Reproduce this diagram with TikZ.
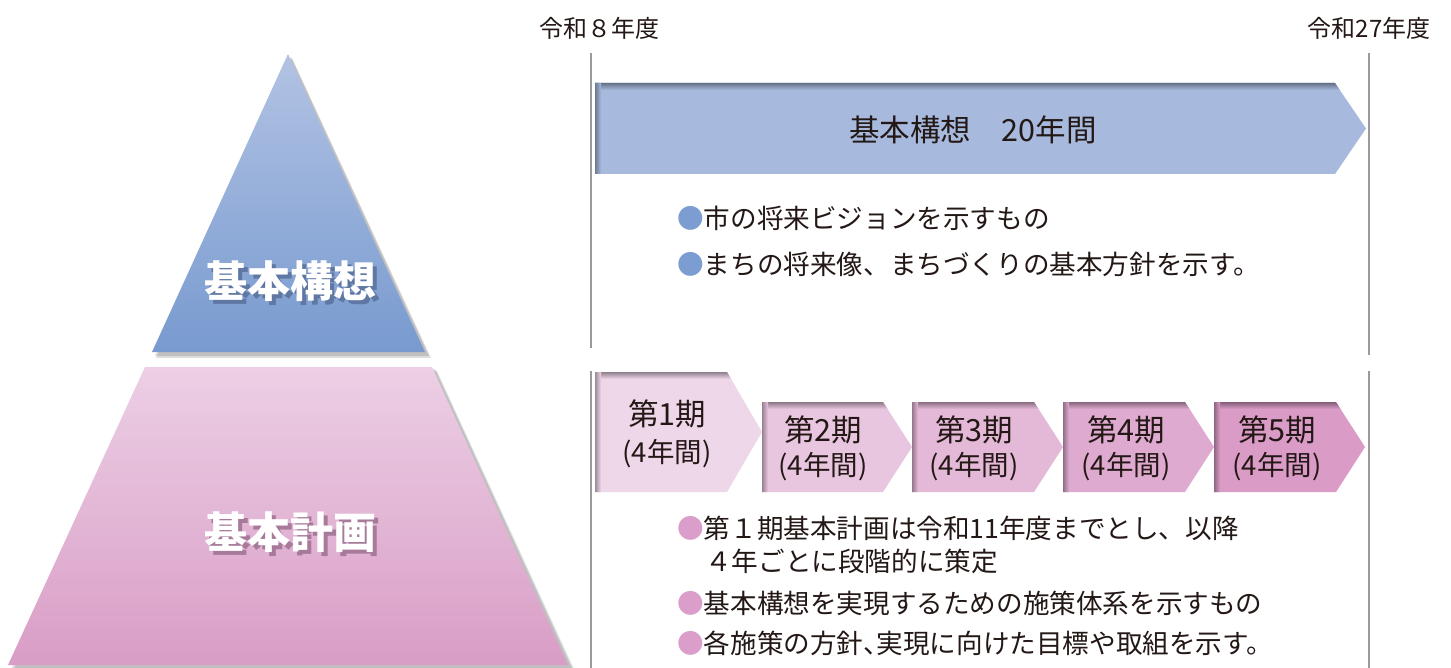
\documentclass[tikz,border=0pt]{standalone}
\usepackage{fontspec}
\setmainfont{Noto Sans CJK JP}
\newfontfamily\jpp[RawFeature=+palt]{Noto Sans CJK JP}
\definecolor{txt}{HTML}{231815}
\definecolor{bluefill}{HTML}{A7BADD}
\definecolor{triTop}{HTML}{B2C3E4}
\definecolor{triBot}{HTML}{789ACF}
\definecolor{trapTop}{HTML}{ECCFE5}
\definecolor{trapBot}{HTML}{D99DC6}
\definecolor{phA}{HTML}{EFD7EA}
\definecolor{phB}{HTML}{E9C6E0}
\definecolor{phC}{HTML}{E4B8D7}
\definecolor{phD}{HTML}{DFAACF}
\definecolor{phE}{HTML}{DA9CC7}
\definecolor{blt}{HTML}{7C9DD2}
\definecolor{pbl}{HTML}{DB9DC9}
\definecolor{vline}{HTML}{9A9A9A}
\definecolor{shBlue}{HTML}{5F77A3}
\definecolor{shPink}{HTML}{A77A99}
\newcommand\shadowed[2]{\makebox[0pt][l]{\hspace{4pt}\raisebox{-4pt}{\textcolor{#1}{#2}}}#2}
\newcommand\phasearr[6]{%
  \fill[#6] (#1,#4) -- (#2,#4) -- (#3,{(#4+#5)/2}) -- (#2,#5) -- (#1,#5) -- cycle;
  \begin{scope}
    \clip (#1,#4) -- (#2,#4) -- (#3,{(#4+#5)/2}) -- (#2,#5) -- (#1,#5) -- cycle;
    \shade[top color=#6!60!black, bottom color=#6] (#1,#4) rectangle (#3,#4+7);
    \shade[left color=#6!65!black, right color=#6] (#1,#4) rectangle (#1+6,#5);
  \end{scope}}
\begin{document}
\begin{tikzpicture}[x=1pt,y=-1pt,
  yearlbl/.style={font=\fontsize{24}{24}\selectfont, text=txt, inner sep=0pt},
  bigtxt/.style={font=\bfseries\fontsize{43}{43}\selectfont, text=white, inner sep=0pt},
  phtitle/.style={font=\fontsize{30.5}{30}\selectfont, text=txt, inner sep=0pt},
  phsub/.style={font=\fontsize{27.5}{27}\selectfont, text=txt, inner sep=0pt},
  bullettxt/.style={font=\fontsize{26.6}{26}\selectfont, text=txt, anchor=west, inner sep=0pt},
  vrule/.style={draw=vline, line width=1.6pt}]
\useasboundingbox (0,0) rectangle (1451,668);
\fill[white] (0,0) rectangle (1451,668);
% pyramid top
\fill[black, opacity=.12] (292,58) -- (431,358) -- (156,358) -- cycle;
\fill[black, opacity=.14] (291,57) -- (429,356) -- (155,356) -- cycle;
\shade[top color=triTop, bottom color=triBot] (288,54) -- (425,352) -- (152,352) -- cycle;
% pyramid bottom
\fill[black, opacity=.12] (150,371) -- (437,371) -- (574,669) -- (14,669) -- cycle;
\fill[black, opacity=.14] (148,369) -- (435,369) -- (572,668) -- (12,668) -- cycle;
\shade[top color=trapTop, bottom color=trapBot] (145,367) -- (432,367) -- (568,665) -- (8,665) -- cycle;
\node[bigtxt] (k1) at (290,283) {\shadowed{shBlue}{基本構想}};
\node[bigtxt] (k2) at (290,534) {\shadowed{shPink}{基本計画}};
% vertical rules
\draw[vrule] (591,53) -- (591,348);
\draw[vrule] (591,371) -- (591,668);
\draw[vrule] (1369,53) -- (1369,355);
\draw[vrule] (1369,371) -- (1369,668);
% year labels
\node[yearlbl] (y8) at (599,28) {令和８年度};
\node[yearlbl] (y27) at (1369,28) {令和27年度};
% big arrow
\phasearr{595}{1335}{1366}{83}{174}{bluefill}
\node[font=\fontsize{30.5}{30}\selectfont, text=txt, inner sep=0pt] (kk) at (973,130) {基本構想　20年間};
% bullets blue
\node[bullettxt] (b1) at (677,218) {{\color{blt}●}市の将来ビジョンを示すもの};
\node[bullettxt] (b2) at (677,264) {{\color{blt}●}まちの将来像、まちづくりの基本方針を示す。};
% phases
\phasearr{595}{727}{762}{372}{492}{phA}
\phasearr{762}{883}{912}{402}{492}{phB}
\phasearr{912}{1034}{1063}{402}{492}{phC}
\phasearr{1063}{1185}{1214}{402}{492}{phD}
\phasearr{1214}{1336}{1365}{402}{492}{phE}
\node[phtitle] (p1a) at (667,414) {第1期};
\node[phsub] (p1b) at (667,454) {(4年間)};
\node[phtitle] (p2a) at (823,430) {第2期};
\node[phsub] (p2b) at (823,467) {(4年間)};
\node[phtitle] (p3a) at (974,430) {第3期};
\node[phsub] (p3b) at (974,467) {(4年間)};
\node[phtitle] (p4a) at (1126,430) {第4期};
\node[phsub] (p4b) at (1126,467) {(4年間)};
\node[phtitle] (p5a) at (1277,430) {第5期};
\node[phsub] (p5b) at (1277,467) {(4年間)};
% bullets pink
\node[bullettxt] (c1) at (677,528) {{\color{pbl}●}第１期基本計画は令和11年度までとし、以降};
\node[bullettxt] (c1b) at (705,561) {４年ごとに段階的に策定};
\node[bullettxt] (c2) at (677,603) {{\color{pbl}●}基本構想を実現するための施策体系を示すもの};
\node[bullettxt] (c3) at (677,643) {{\color{pbl}●}各施策の方針{\jpp 、}実現に向けた目標や取組を示す。};
\end{tikzpicture}
\end{document}
